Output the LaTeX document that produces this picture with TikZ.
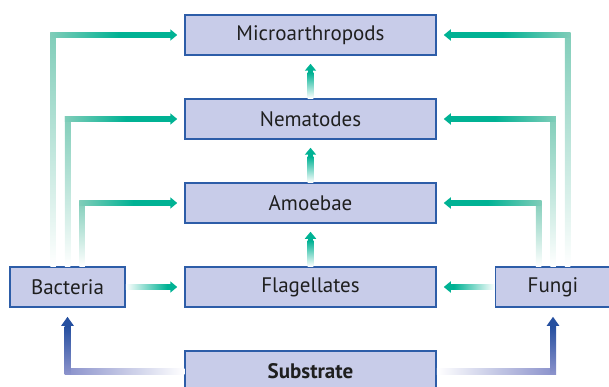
\documentclass[tikz,border=0pt]{standalone}
\usepackage{fontspec}
\setmainfont{PT Sans}
\usetikzlibrary{arrows.meta, calc}

\definecolor{boxfill}{HTML}{C8CCE9}
\definecolor{boxline}{HTML}{2D5DA8}
\definecolor{tealS}{HTML}{00B294}
\definecolor{tealL}{HTML}{80CDB9}
\definecolor{blueD}{HTML}{2650A0}
\definecolor{blueM}{HTML}{8C93CC}

\tikzset{
  taxon/.style={draw=boxline, fill=boxfill, line width=1.5pt, minimum height=40pt,
    inner sep=0pt, font=\fontsize{21}{24}\selectfont, text=black!88},
  wide/.style={taxon, minimum width=251pt},
  side/.style={taxon, minimum width=115pt},
  feed/.style={draw=tealS, line width=5.5pt, -{Triangle[width=11pt,length=7pt]}},
  supply/.style={draw=blueD, line width=6pt, -{Triangle[width=12pt,length=9pt]}},
}

\begin{document}
\begin{tikzpicture}[x=1pt,y=-1pt]
  \useasboundingbox (0,0) rectangle (609,387);

  \node[wide] (micro) at (310.5,35) {Microarthropods};
  \node[wide] (nema) at (310.5,119) {Nematodes};
  \node[wide] (amoe) at (310.5,203) {Amoebae};
  \node[wide] (flag) at (310.5,287) {Flagellates};
  \node[wide, font=\fontsize{21}{24}\selectfont\bfseries] (subs) at (310.5,371) {Substrate};
  \node[side] (bac) at (67.5,287) {Bacteria};
  \node[side] (fungi) at (553,287) {Fungi};

  % up the middle column
  \foreach \lo/\hi in {nema/micro, amoe/nema, flag/amoe} {
    \draw[feed, shorten >=8pt] (\lo.north) -- (\hi.south);
    \shade[bottom color=white, top color=tealS] ([xshift=-2.9pt]\lo.north) rectangle ([xshift=2.9pt, yshift=-17pt]\hi.south);
  }

  % bacteria feed
  \foreach \dx/\tgt in {-14.5/micro, 0/nema, 14.5/amoe} {
    \coordinate (foot) at ([xshift=\dx pt]bac.north);
    \coordinate (knee) at (foot |- \tgt.west);
    \shade[bottom color=white, top color=tealL] ([xshift=-2.75pt]foot) rectangle ([xshift=2.75pt, yshift=2.75pt]knee);
    \draw[feed, shorten >=7pt] (knee) -- (\tgt.west);
    \shade[left color=tealL, right color=tealS] ([xshift=-2.75pt, yshift=2.75pt]knee) rectangle ([yshift=-2.75pt]$(knee)!0.5!(\tgt.west)$);
  }
  \draw[feed, shorten >=7pt] (bac.east) -- (flag.west);
  \shade[left color=white, right color=tealS] ([yshift=2.75pt]bac.east) rectangle ([xshift=-17pt, yshift=-2.75pt]flag.west);

  % fungi feed
  \foreach \dx/\tgt in {14.5/micro, 0/nema, -14.5/amoe} {
    \coordinate (foot) at ([xshift=\dx pt]fungi.north);
    \coordinate (knee) at (foot |- \tgt.east);
    \shade[bottom color=white, top color=tealL] ([xshift=-2.75pt]foot) rectangle ([xshift=2.75pt, yshift=2.75pt]knee);
    \draw[feed, shorten >=7pt] (knee) -- (\tgt.east);
    \shade[left color=tealS, right color=tealL] ([yshift=2.75pt]$(knee)!0.5!(\tgt.east)$) rectangle ([xshift=2.75pt, yshift=-2.75pt]knee);
  }
  \draw[feed, shorten >=7pt] (fungi.west) -- (flag.east);
  \shade[left color=tealS, right color=white] ([xshift=17pt, yshift=2.75pt]flag.east) rectangle ([yshift=-2.75pt]fungi.west);

  % substrate supply
  \draw[supply, shorten >=9pt] (subs.west) -| (bac.south);
  \coordinate (lc) at (bac.south |- subs.west);
  \shade[left color=blueM, right color=white] ([yshift=3pt]lc) rectangle ([yshift=-3pt]subs.west);
  \shade[bottom color=blueM, top color=blueD] ([xshift=-3pt, yshift=-3pt]lc) rectangle ([xshift=3pt, yshift=-19pt]bac.south);
  \draw[supply, shorten >=9pt] (subs.east) -| (fungi.south);
  \coordinate (rc) at (fungi.south |- subs.east);
  \shade[left color=white, right color=blueM] ([yshift=3pt]subs.east) rectangle ([yshift=-3pt]rc);
  \shade[bottom color=blueM, top color=blueD] ([xshift=-3pt, yshift=-3pt]rc) rectangle ([xshift=3pt, yshift=-19pt]fungi.south);
\end{tikzpicture}
\end{document}
